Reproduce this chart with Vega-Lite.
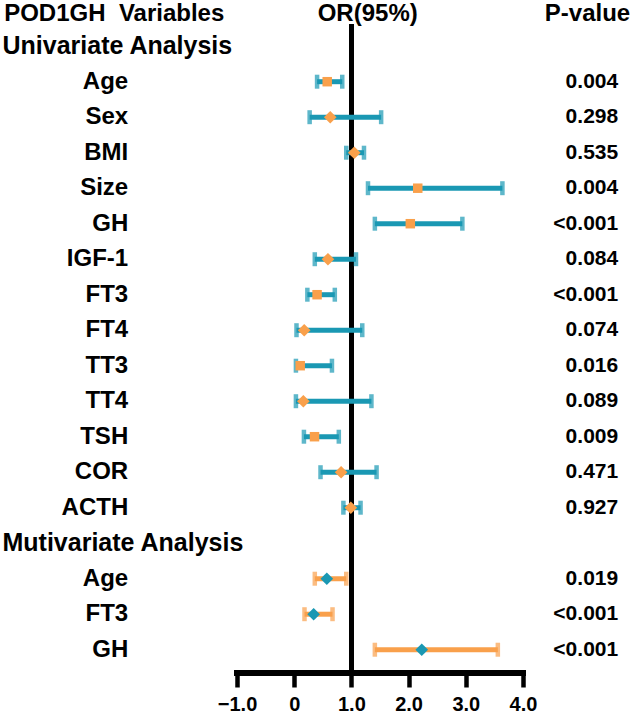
{
  "$schema": "https://vega.github.io/schema/vega-lite/v6.json",
  "width": 631,
  "height": 673,
  "autosize": {"type": "none"},
  "padding": {"left": 0, "top": 0, "right": 0, "bottom": 43},
  "background": "white",
  "config": {
    "view": {"stroke": null},
    "text": {"font": "Liberation Sans", "fontWeight": "bold", "color": "black"}
  },
  "datasets": {
    "rows": [
      {"group": "Univariate", "variable": "Age", "or": 0.577, "lo": 0.40, "hi": 0.84, "p": "0.004", "shape": "square", "row": 2},
      {"group": "Univariate", "variable": "Sex", "or": 0.63, "lo": 0.27, "hi": 1.52, "p": "0.298", "shape": "diamond", "row": 3},
      {"group": "Univariate", "variable": "BMI", "or": 1.05, "lo": 0.91, "hi": 1.22, "p": "0.535", "shape": "diamond", "row": 4},
      {"group": "Univariate", "variable": "Size", "or": 2.16, "lo": 1.29, "hi": 3.64, "p": "0.004", "shape": "square", "row": 5},
      {"group": "Univariate", "variable": "GH", "or": 2.03, "lo": 1.41, "hi": 2.94, "p": "<0.001", "shape": "square", "row": 6},
      {"group": "Univariate", "variable": "IGF-1", "or": 0.59, "lo": 0.36, "hi": 1.08, "p": "0.084", "shape": "diamond", "row": 7},
      {"group": "Univariate", "variable": "FT3", "or": 0.40, "lo": 0.23, "hi": 0.71, "p": "<0.001", "shape": "square", "row": 8},
      {"group": "Univariate", "variable": "FT4", "or": 0.175, "lo": 0.04, "hi": 1.19, "p": "0.074", "shape": "diamond", "row": 9},
      {"group": "Univariate", "variable": "TT3", "or": 0.105, "lo": 0.03, "hi": 0.66, "p": "0.016", "shape": "square", "row": 10},
      {"group": "Univariate", "variable": "TT4", "or": 0.16, "lo": 0.03, "hi": 1.35, "p": "0.089", "shape": "diamond", "row": 11},
      {"group": "Univariate", "variable": "TSH", "or": 0.355, "lo": 0.17, "hi": 0.78, "p": "0.009", "shape": "square", "row": 12},
      {"group": "Univariate", "variable": "COR", "or": 0.82, "lo": 0.46, "hi": 1.44, "p": "0.471", "shape": "diamond", "row": 13},
      {"group": "Univariate", "variable": "ACTH", "or": 0.99, "lo": 0.86, "hi": 1.16, "p": "0.927", "shape": "diamond", "row": 14},
      {"group": "Multivariate", "variable": "Age", "or": 0.57, "lo": 0.36, "hi": 0.91, "p": "0.019", "shape": "diamond", "row": 16},
      {"group": "Multivariate", "variable": "FT3", "or": 0.34, "lo": 0.18, "hi": 0.67, "p": "<0.001", "shape": "diamond", "row": 17},
      {"group": "Multivariate", "variable": "GH", "or": 2.23, "lo": 1.41, "hi": 3.56, "p": "<0.001", "shape": "diamond", "row": 18}
    ],
    "sections": [
      {"label": "Univariate Analysis", "row": 1},
      {"label": "Mutivariate Analysis", "row": 15}
    ]
  },
  "data": {"name": "rows"},
  "layer": [
    {
      "mark": {"type": "rule", "color": "black", "strokeWidth": 4.5},
      "encoding": {
        "x": {"datum": 1, "type": "quantitative", "title": null,
              "scale": {"domain": [-5.1434, 5.8881], "nice": false, "zero": false},
              "axis": {"values": [-1, 0, 1, 2, 3, 4], "labelExpr": "datum.value == 0 ? '0' : format(datum.value, '.1f')",
                       "domain": false, "grid": false, "ticks": true, "tickSize": 14, "tickWidth": 4.5, "tickColor": "black",
                       "labelFont": "Liberation Sans", "labelFontWeight": "bold", "labelFontSize": 20, "labelColor": "black",
                       "labelPadding": 7, "labelFlush": false, "labelOverlap": false}},
        "y": {"datum": 0.375, "type": "quantitative", "axis": null,
              "scale": {"domain": [-0.3014, 18.656], "nice": false, "zero": false, "reverse": true}},
        "y2": {"datum": 18.656}
      }
    },
    {
      "mark": {"type": "rule", "color": "black", "strokeWidth": 5, "strokeCap": "square"},
      "encoding": {
        "x": {"datum": -1, "type": "quantitative", "title": null},
        "x2": {"datum": 4},
        "y": {"datum": 18.656, "type": "quantitative", "axis": null}
      }
    },
    {
      "mark": {"type": "rule", "strokeWidth": 5},
      "encoding": {
        "x": {"field": "lo", "type": "quantitative", "title": null},
        "x2": {"field": "hi"},
        "y": {"field": "row", "type": "quantitative", "axis": null},
        "color": {"condition": {"test": "datum.group == 'Multivariate'", "value": "#f9a04b"}, "value": "#1a98b3"}
      }
    },
    {
      "mark": {"type": "tick", "orient": "vertical", "size": 14, "thickness": 4.5},
      "encoding": {
        "x": {"field": "lo", "type": "quantitative", "title": null},
        "y": {"field": "row", "type": "quantitative", "axis": null},
        "color": {"condition": {"test": "datum.group == 'Multivariate'", "value": "#f9a04b"}, "value": "#1a98b3"}
      }
    },
    {
      "mark": {"type": "tick", "orient": "vertical", "size": 14, "thickness": 4.5},
      "encoding": {
        "x": {"field": "hi", "type": "quantitative", "title": null},
        "y": {"field": "row", "type": "quantitative", "axis": null},
        "color": {"condition": {"test": "datum.group == 'Multivariate'", "value": "#f9a04b"}, "value": "#1a98b3"}
      }
    },
    {
      "transform": [{"filter": "datum.shape == 'square'"}],
      "mark": {"type": "point", "shape": "square", "filled": true, "opacity": 1, "size": 90},
      "encoding": {
        "x": {"field": "or", "type": "quantitative", "title": null},
        "y": {"field": "row", "type": "quantitative", "axis": null},
        "color": {"condition": {"test": "datum.group == 'Multivariate'", "value": "#1a98b3"}, "value": "#f9a04b"}
      }
    },
    {
      "transform": [{"filter": "datum.shape == 'diamond'"}],
      "mark": {"type": "point", "shape": "diamond", "filled": true, "opacity": 1, "size": 160},
      "encoding": {
        "x": {"field": "or", "type": "quantitative", "title": null},
        "y": {"field": "row", "type": "quantitative", "axis": null},
        "color": {"condition": {"test": "datum.group == 'Multivariate'", "value": "#1a98b3"}, "value": "#f9a04b"}
      }
    },
    {
      "mark": {"type": "text", "align": "right", "baseline": "middle", "fontSize": 24},
      "encoding": {
        "x": {"datum": -2.902, "type": "quantitative", "title": null},
        "y": {"field": "row", "type": "quantitative", "axis": null},
        "text": {"field": "variable"}
      }
    },
    {
      "mark": {"type": "text", "align": "right", "baseline": "middle", "fontSize": 21},
      "encoding": {
        "x": {"datum": 5.664, "type": "quantitative", "title": null},
        "y": {"field": "row", "type": "quantitative", "axis": null},
        "text": {"field": "p"}
      }
    },
    {
      "data": {"name": "sections"},
      "mark": {"type": "text", "align": "left", "baseline": "middle", "fontSize": 25},
      "encoding": {
        "x": {"datum": -5.1, "type": "quantitative", "title": null},
        "y": {"field": "row", "type": "quantitative", "axis": null},
        "text": {"field": "label"}
      }
    },
    {
      "data": {"values": [{"label": "POD1GH\u00a0 Variables"}]},
      "mark": {"type": "text", "align": "left", "baseline": "middle", "fontSize": 24},
      "encoding": {
        "x": {"datum": -5.07, "type": "quantitative", "title": null},
        "y": {"datum": 0.1, "type": "quantitative", "axis": null},
        "text": {"field": "label"}
      }
    },
    {
      "data": {"values": [{"label": "OR(95%)"}]},
      "mark": {"type": "text", "align": "center", "baseline": "middle", "fontSize": 24},
      "encoding": {
        "x": {"datum": 1.285, "type": "quantitative", "title": null},
        "y": {"datum": 0.1, "type": "quantitative", "axis": null},
        "text": {"field": "label"}
      }
    },
    {
      "data": {"values": [{"label": "P-value"}]},
      "mark": {"type": "text", "align": "right", "baseline": "middle", "fontSize": 24},
      "encoding": {
        "x": {"datum": 5.874, "type": "quantitative", "title": null},
        "y": {"datum": 0.1, "type": "quantitative", "axis": null},
        "text": {"field": "label"}
      }
    }
  ]
}
